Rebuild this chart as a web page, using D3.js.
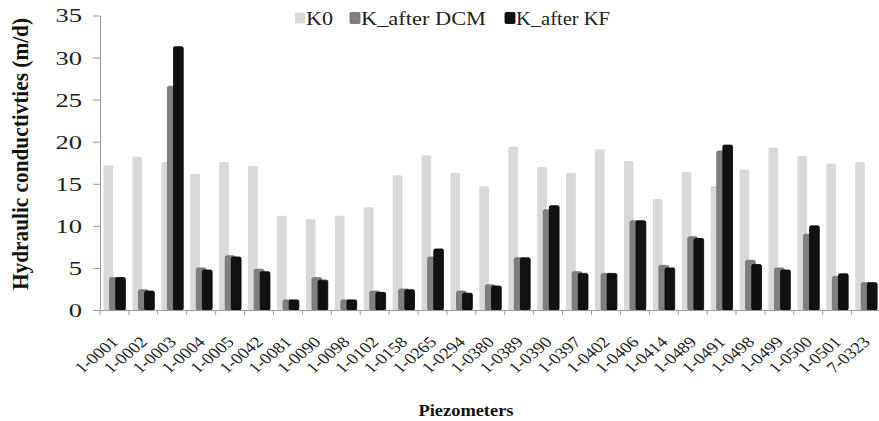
<!DOCTYPE html>
<html><head><meta charset="utf-8">
<script src="https://cdn.jsdelivr.net/npm/d3@7"></script>
<style>body{margin:0;background:#fff}svg{display:block}text{font-family:"Liberation Serif","DejaVu Serif",serif}</style>
</head><body><svg id="c" width="879" height="421"></svg>
<script>
const categories = ["1-0001","1-0002","1-0003","1-0004","1-0005","1-0042","1-0081","1-0090","1-0098","1-0102","1-0158","1-0265","1-0294","1-0380","1-0389","1-0390","1-0397","1-0402","1-0406","1-0414","1-0489","1-0491","1-0498","1-0499","1-0500","1-0501","7-0323"];
const seriesNames = ["K0","K_after DCM","K_after KF"];
const k0   = [17.2,18.2,17.6,16.2,17.6,17.1,11.2,10.8,11.2,12.2,16.0,18.4,16.3,14.7,19.4,17.0,16.3,19.1,17.7,13.2,16.4,14.7,16.7,19.3,18.3,17.4,17.6];
const kDCM = [3.85,2.4,26.6,5.0,6.45,4.85,1.2,3.85,1.2,2.25,2.5,6.3,2.25,3.0,6.2,11.9,4.55,4.35,10.6,5.3,8.7,18.9,5.9,5.0,9.0,4.0,3.25];
const kKF  = [3.85,2.25,31.3,4.75,6.3,4.55,1.2,3.55,1.2,2.1,2.4,7.25,2.0,2.85,6.2,12.4,4.35,4.35,10.6,5.0,8.5,19.6,5.4,4.75,10.0,4.3,3.25];
const yTicks = [0,5,10,15,20,25,30,35];
const yTitle = "Hydraulic conductivties (m/d)";
const xTitle = "Piezometers";

const seriesValues = [k0, kDCM, kKF];
const fills = ["#d9d9d9","#7f7f7f","#111111"];
const strokes = ["none","#6e6e6e","#000000"];

const svg = d3.select("#c");
const mLeft = 100, mRight = 880.6, mTop = 15.5, mBottom = 310;

const x = d3.scaleBand().domain(categories).range([mLeft, mRight]).paddingInner(0).paddingOuter(0);
const y = d3.scaleLinear().domain([0,35]).range([mBottom, mTop]);
const barW = 9.7, step = 6.1;
const groupW = barW + 2*step;
const sub = d3.scaleLinear().domain([0,2]).range([(x.bandwidth()-groupW)/2, (x.bandwidth()-groupW)/2 + 2*step]);

// bars
seriesValues.forEach((vals, si) => {
  svg.append("g").selectAll("rect").data(vals).join("rect")
    .attr("x", (d,i) => x(categories[i]) + sub(si))
    .attr("y", d => y(d))
    .attr("width", barW)
    .attr("height", d => y(0) - y(d))
    .attr("rx", 1.5)
    .attr("fill", fills[si])
    .attr("stroke", strokes[si])
    .attr("stroke-width", 0.8);
});

// y axis
const yAxis = svg.append("g").attr("transform", `translate(${mLeft},0)`)
  .call(d3.axisLeft(y).tickValues(yTicks).tickSize(7).tickSizeOuter(0).tickFormat(d3.format("d")));
yAxis.attr("font-family", null);
yAxis.select(".domain").attr("stroke", "#9a9a9a");
yAxis.selectAll(".tick line").attr("stroke", "#9a9a9a");
yAxis.selectAll(".tick text")
  .attr("font-size", 19).attr("fill", "#222")
  .attr("x", null).attr("dy", "0.34em")
  .attr("transform", "translate(-18,0) scale(1.4,1)");

// x axis
const xAxis = svg.append("g").attr("transform", `translate(0,${mBottom})`)
  .call(d3.axisBottom(x).tickSize(0).tickSizeOuter(0));
xAxis.attr("font-family", null);
xAxis.select(".domain").attr("stroke", "#9a9a9a");
xAxis.selectAll(".tick text")
  .attr("font-size", 15.5).attr("fill", "#222")
  .attr("text-anchor", "end").attr("y", null).attr("dy", null)
  .attr("transform", "translate(5,33) scale(1.2,1) rotate(-45)");
// boundary ticks
const bounds = categories.map(c => x(c)).concat([x(categories[categories.length-1]) + x.bandwidth()]);
svg.append("g").selectAll("line").data(bounds).join("line")
  .attr("x1", d => d).attr("x2", d => d)
  .attr("y1", mBottom).attr("y2", mBottom + 5)
  .attr("stroke", "#9a9a9a");

// legend
const legendX = [295, 350, 505];
const legendLen = [27, 125, 94];
const lg = svg.append("g");
seriesNames.forEach((n, i) => {
  lg.append("rect").attr("x", legendX[i]).attr("y", 12.5).attr("width", 10).attr("height", 11)
    .attr("fill", fills[i]).attr("stroke", strokes[i]).attr("stroke-width", 0.8).attr("rx", 1);
  lg.append("text").attr("x", legendX[i] + 11).attr("y", 25)
    .attr("font-size", 19).attr("fill", "#222")
    .attr("textLength", legendLen[i]).attr("lengthAdjust", "spacingAndGlyphs")
    .text(n);
});

// axis titles
svg.append("text")
  .attr("transform", "translate(28,154) scale(1.25,1) rotate(-90)")
  .attr("text-anchor", "middle")
  .attr("font-size", 18).attr("font-weight", "bold").attr("fill", "#111")
  .attr("textLength", 272).attr("lengthAdjust", "spacingAndGlyphs")
  .text(yTitle);
svg.append("text")
  .attr("x", 466).attr("y", 416).attr("text-anchor", "middle")
  .attr("font-size", 17.5).attr("font-weight", "bold").attr("fill", "#111")
  .attr("textLength", 95).attr("lengthAdjust", "spacingAndGlyphs")
  .text(xTitle);
</script></body></html>
